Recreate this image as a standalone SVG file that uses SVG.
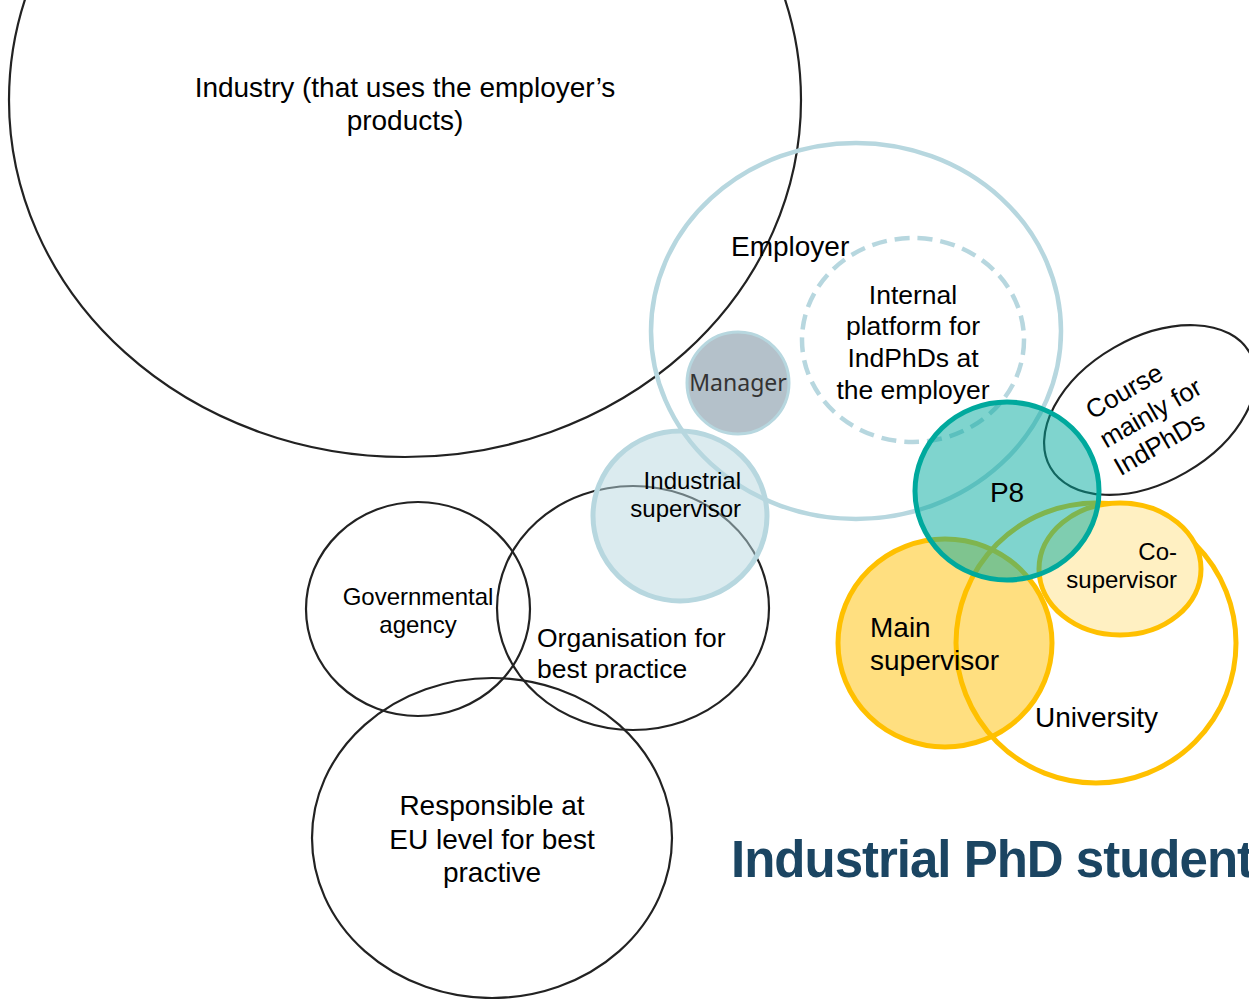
<svg xmlns="http://www.w3.org/2000/svg" width="1249" height="999" viewBox="0 0 1249 999">
<style>
text{font-family:"Liberation Sans",Arial,sans-serif;fill:#000}
.blk{fill:none;stroke:#222;stroke-width:2.2}
.lb{stroke:#b7d7df}
.yl{stroke:#ffc000;stroke-width:5}
</style>
<rect width="1249" height="999" fill="#fff"/>
<g id="industry"><ellipse class="blk" cx="405" cy="100" rx="396" ry="357"/></g>
<g id="employer"><ellipse cx="856" cy="331" rx="205" ry="188" fill="none" class="lb" stroke-width="4.5"/></g>
<g id="internal-platform"><ellipse cx="913" cy="340" rx="111" ry="102" fill="none" class="lb" stroke-width="4.5" stroke-dasharray="15 8"/></g>
<g id="manager"><circle cx="738" cy="383" r="51" fill="#b4c1ca" class="lb" stroke-width="3"/></g>
<g id="organisation"><ellipse class="blk" cx="633" cy="608" rx="136" ry="122"/></g>
<g id="governmental"><ellipse class="blk" cx="418" cy="609" rx="112" ry="107"/></g>
<g id="eu"><ellipse class="blk" cx="492" cy="838" rx="180" ry="160"/></g>
<g id="industrial-supervisor"><ellipse cx="680" cy="516" rx="87" ry="85" fill="#b7d7df" fill-opacity="0.5" class="lb" stroke-width="5"/></g>
<g id="course"><ellipse class="blk" cx="1150" cy="410" rx="115" ry="72" transform="rotate(-30 1150 410)"/></g>
<g id="main-supervisor"><ellipse cx="945" cy="643" rx="107" ry="104" fill="#ffdf80" class="yl"/></g>
<g id="university"><circle cx="1096" cy="643" r="140" fill="none" class="yl"/></g>
<g id="co-supervisor"><ellipse cx="1120" cy="569" rx="81" ry="66" fill="#fff0c2" class="yl"/></g>
<g id="p8"><ellipse cx="1007" cy="491" rx="92" ry="89" fill="#00a99d" fill-opacity="0.5" stroke="#00a99d" stroke-width="5"/></g>
<g id="connectors"></g>
<g id="labels">
<text x="405" y="97" font-size="28" text-anchor="middle">Industry (that uses the employer’s</text>
<text x="405" y="130" font-size="28" text-anchor="middle">products)</text>
<text x="731" y="256" font-size="28">Employer</text>
<g font-size="26.5" text-anchor="middle">
<text x="913" y="304">Internal</text>
<text x="913" y="335">platform for</text>
<text x="913" y="367">IndPhDs at</text>
<text x="913" y="399">the employer</text>
</g>
<text x="738" y="391" font-size="23" text-anchor="middle" style="font-family:'Noto Sans','Open Sans',sans-serif;fill:#333">Manager</text>
<text x="741" y="489" font-size="24" text-anchor="end">Industrial</text>
<text x="741" y="517" font-size="24" text-anchor="end">supervisor</text>
<text x="418" y="605" font-size="24" text-anchor="middle">Governmental</text>
<text x="418" y="633" font-size="24" text-anchor="middle">agency</text>
<text x="537" y="647" font-size="26.5">Organisation for</text>
<text x="537" y="678" font-size="26.5">best practice</text>
<g font-size="28" text-anchor="middle">
<text x="492" y="815">Responsible at</text>
<text x="492" y="849">EU level for best</text>
<text x="492" y="882">practive</text>
</g>
<text x="1007" y="502" font-size="28" text-anchor="middle">P8</text>
<text x="1177" y="560" font-size="24" text-anchor="end">Co-</text>
<text x="1177" y="588" font-size="24" text-anchor="end">supervisor</text>
<text x="870" y="637" font-size="28">Main</text>
<text x="870" y="670" font-size="28">supervisor</text>
<text x="1035" y="727" font-size="28">University</text>
<g font-size="26" text-anchor="middle" transform="translate(1150 412) rotate(-30)">
<text x="-12" y="-22">Course</text>
<text x="0" y="10">mainly for</text>
<text x="-8" y="41">IndPhDs</text>
</g>
<text x="731" y="877" font-size="51" font-weight="bold" letter-spacing="-1" style="fill:#1b4562">Industrial PhD student</text>
</g>
</svg>
